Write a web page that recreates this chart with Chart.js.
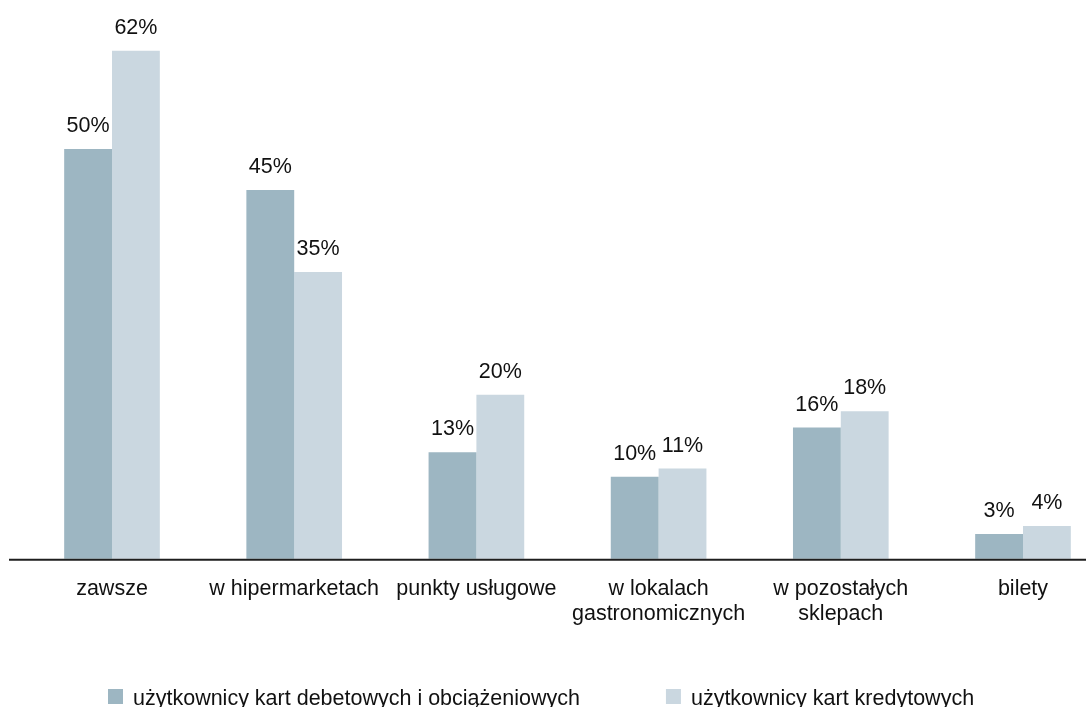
<!DOCTYPE html>
<html>
<head>
<meta charset="utf-8">
<script src="https://cdn.jsdelivr.net/npm/chart.js@4"></script>
<style>
  html, body { margin: 0; padding: 0; background: #fff; overflow: hidden; }
  #wrap { width: 1086px; height: 707px; position: relative; }
</style>
</head>
<body>
<div id="wrap"><canvas id="chart"></canvas></div>
<script>
const categories = [
  'zawsze',
  'w hipermarketach',
  'punkty usługowe',
  ['w lokalach', 'gastronomicznych'],
  ['w pozostałych', 'sklepach'],
  'bilety'
];
const debitLabel = 'użytkownicy kart debetowych i obciążeniowych';
const creditLabel = 'użytkownicy kart kredytowych';
const debitValues = [50, 45, 13, 10, 16, 3];
const creditValues = [62, 35, 20, 11, 18, 4];

const FONT = '"Liberation Sans", Arial, sans-serif';
const FSIZE = 21.5;

// value labels above each bar
const valueLabels = {
  id: 'valueLabels',
  afterDatasetsDraw(chart) {
    const ctx = chart.ctx;
    ctx.save();
    ctx.font = FSIZE + 'px ' + FONT;
    ctx.fillStyle = '#111';
    ctx.textAlign = 'center';
    ctx.textBaseline = 'alphabetic';
    chart.data.datasets.forEach((ds, i) => {
      chart.getDatasetMeta(i).data.forEach((bar, j) => {
        ctx.fillText(ds.data[j] + '%', bar.x, bar.y - 17);
      });
    });
    ctx.restore();
  }
};

// baseline line across the whole width
const baseLine = {
  id: 'baseLine',
  afterDatasetsDraw(chart) {
    const ctx = chart.ctx;
    const y = chart.scales.y.getPixelForValue(0) + 1;
    ctx.save();
    ctx.strokeStyle = '#1e1e1e';
    ctx.lineWidth = 2;
    ctx.beginPath();
    ctx.moveTo(9, y);
    ctx.lineTo(chart.width, y);
    ctx.stroke();
    ctx.restore();
  }
};

// bottom legend with wide gap between items
const wideLegend = {
  id: 'wideLegend',
  afterDraw(chart) {
    const ctx = chart.ctx;
    ctx.save();
    ctx.font = FSIZE + 'px ' + FONT;
    ctx.textBaseline = 'alphabetic';
    ctx.textAlign = 'left';
    const box = 15, gapBox = 10, gapItems = 86;
    let x = 108;
    const baseY = 705;
    chart.data.datasets.forEach(ds => {
      ctx.fillStyle = ds.backgroundColor;
      ctx.fillRect(x, baseY - 16, box, box);
      ctx.fillStyle = '#111';
      ctx.fillText(ds.label, x + box + gapBox, baseY);
      x += box + gapBox + ctx.measureText(ds.label).width + gapItems;
    });
    ctx.restore();
  }
};

new Chart(document.getElementById('chart'), {
  type: 'bar',
  data: {
    labels: categories,
    datasets: [
      {
        label: debitLabel,
        data: debitValues,
        backgroundColor: '#9db6c2',
        barPercentage: 1,
        categoryPercentage: 0.525,
        clip: false
      },
      {
        label: creditLabel,
        data: creditValues,
        backgroundColor: '#cad7e0',
        barPercentage: 1,
        categoryPercentage: 0.525,
        clip: false
      }
    ]
  },
  options: {
    responsive: true,
    maintainAspectRatio: false,
    animation: false,
    layout: { padding: { left: 112, right: 63, top: 18, bottom: 62 } },
    plugins: {
      legend: { display: false },
      tooltip: { enabled: false }
    },
    scales: {
      x: {
        offset: false,
        grid: { display: false, drawTicks: false },
        border: { display: false },
        ticks: {
          color: '#111',
          padding: 18,
          maxRotation: 0,
          autoSkip: false,
          font: { family: FONT, size: FSIZE, lineHeight: 1.17 }
        }
      },
      y: {
        display: false,
        min: 0,
        max: 66
      }
    }
  },
  plugins: [valueLabels, baseLine, wideLegend]
});
</script>
</body>
</html>
